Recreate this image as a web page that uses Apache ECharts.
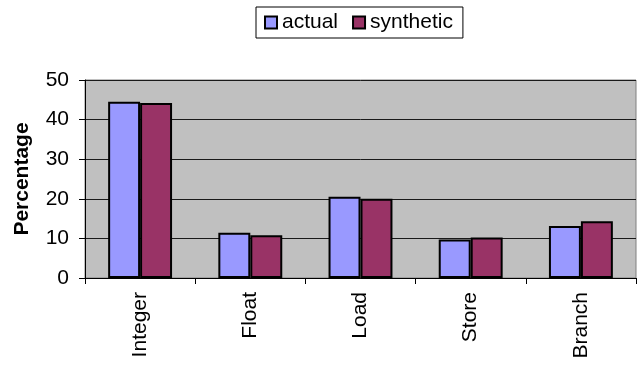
<!DOCTYPE html>
<html>
<head>
<meta charset="utf-8">
<script src="https://cdn.jsdelivr.net/npm/echarts@6/dist/echarts.min.js"></script>
<style>
  html, body { margin: 0; padding: 0; background: #fff; }
  #chart { width: 637px; height: 368px; }
</style>
</head>
<body>
<div id="chart"></div>
<script>
// Instruction mix: share of each instruction class, measured vs. synthetic workload
const categories = ['Integer', 'Float', 'Load', 'Store', 'Branch'];
const actualValues = [44.5, 11.4, 20.5, 9.7, 13.1];
const syntheticValues = [44.2, 10.8, 20.0, 10.2, 14.3];
const yTicks = [0, 10, 20, 30, 40, 50];

const FONT = '"Liberation Sans", Arial, sans-serif';

const chart = echarts.init(document.getElementById('chart'), null, { renderer: 'canvas' });

chart.setOption({
  animation: false,
  backgroundColor: '#ffffff',
  textStyle: { fontFamily: FONT, color: '#000' },
  legend: {
    top: 7,
    left: 256,
    padding: [5, 10, 5, 8],
    itemWidth: 12,
    itemHeight: 12,
    itemGap: 14,
    borderColor: '#000',
    borderWidth: 1,
    icon: 'rect',
    textStyle: { fontFamily: FONT, fontSize: 21, color: '#000' },
    data: ['actual', 'synthetic']
  },
  grid: {
    left: 85,
    right: 1,
    top: 80,
    bottom: 90,
    show: true,
    backgroundColor: '#C0C0C0',
    borderColor: '#808080',
    borderWidth: 1
  },
  xAxis: {
    type: 'category',
    data: categories,
    axisLine: { show: true, lineStyle: { color: '#000', width: 1 } },
    axisTick: { show: true, alignWithLabel: false, length: 6, lineStyle: { color: '#000' } },
    axisLabel: { rotate: 90, fontSize: 21, margin: 14, color: '#000', fontFamily: FONT },
    splitLine: { show: false }
  },
  yAxis: {
    type: 'value',
    min: yTicks[0],
    max: yTicks[yTicks.length - 1],
    interval: yTicks[1] - yTicks[0],
    name: 'Percentage',
    nameLocation: 'middle',
    nameRotate: 90,
    nameGap: 52,
    nameTextStyle: { fontFamily: FONT, fontSize: 21, fontWeight: 'bold', color: '#000' },
    axisLine: { show: true, lineStyle: { color: '#000', width: 1 } },
    axisTick: { show: true, inside: false, length: 6, lineStyle: { color: '#000' } },
    axisLabel: { fontSize: 21, margin: 16, color: '#000', fontFamily: FONT },
    splitLine: { show: true, lineStyle: { color: '#1a1a1a', width: 1 } }
  },
  series: [
    {
      name: 'actual',
      type: 'bar',
      data: actualValues,
      barGap: '0%',
      barCategoryGap: '42%',
      itemStyle: { color: '#9999FF', borderColor: '#000', borderWidth: 2 }
    },
    {
      name: 'synthetic',
      type: 'bar',
      data: syntheticValues,
      itemStyle: { color: '#993366', borderColor: '#000', borderWidth: 2 }
    }
  ]
});
</script>
</body>
</html>
